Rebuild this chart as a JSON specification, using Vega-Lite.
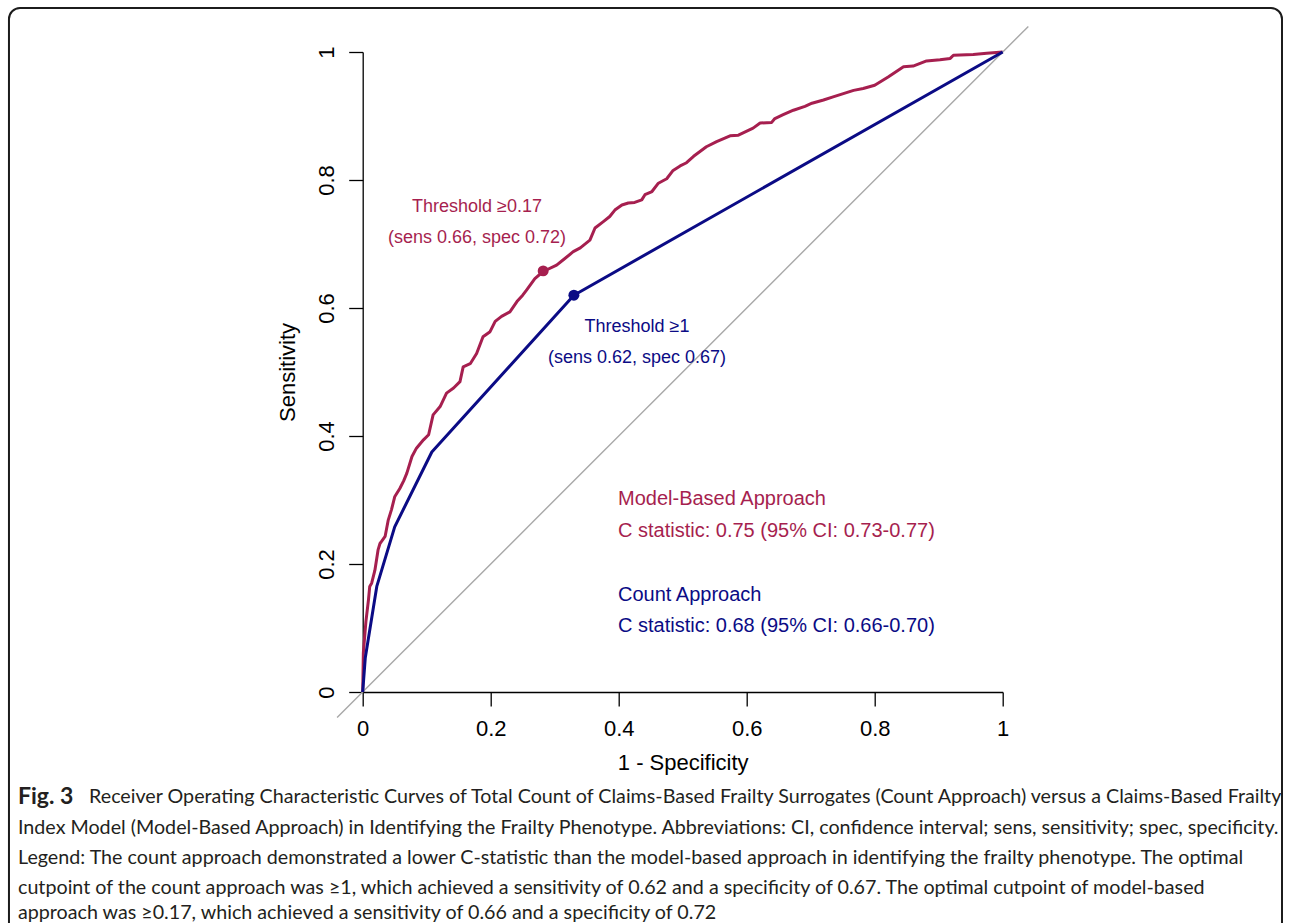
{
  "$schema": "https://vega.github.io/schema/vega-lite/v6.json",
  "width": 640,
  "height": 640,
  "autosize": {"type": "none"},
  "padding": {"left": 362.7, "top": 52, "right": 287.3, "bottom": 231},
  "background": "white",
  "config": {
    "view": {"stroke": null},
    "font": "Liberation Sans",
    "axis": {"grid": false, "domainColor": "#000000", "domainWidth": 1.3, "tickColor": "#000000", "tickWidth": 1.3, "tickSize": 14,
      "labelFont": "Liberation Sans", "labelFontSize": 22, "labelColor": "#000000", "labelFlush": false, "labelOverlap": false,
      "titleFont": "Liberation Sans", "titleFontSize": 22, "titleFontWeight": "normal", "titleColor": "#000000"},
    "axisX": {"labelPadding": 12, "titlePadding": 13},
    "axisY": {"labelPadding": 10, "labelAngle": 270, "labelAlign": "center", "labelBaseline": "bottom", "titlePadding": 16}
  },
  "datasets": {
    "reference": [
      {"fpr": -0.04, "tpr": -0.04},
      {"fpr": 1.04, "tpr": 1.04}
    ],
    "count": [
      {"fpr": 0, "tpr": 0},
      {"fpr": 0.004, "tpr": 0.053},
      {"fpr": 0.022, "tpr": 0.165},
      {"fpr": 0.05, "tpr": 0.258},
      {"fpr": 0.108, "tpr": 0.375},
      {"fpr": 0.33, "tpr": 0.62},
      {"fpr": 1, "tpr": 1}
    ],
    "model": [
      {"fpr": 0, "tpr": 0},
      {"fpr": 0.001, "tpr": 0.061},
      {"fpr": 0.005, "tpr": 0.11},
      {"fpr": 0.009, "tpr": 0.144},
      {"fpr": 0.011, "tpr": 0.165},
      {"fpr": 0.014, "tpr": 0.17},
      {"fpr": 0.019, "tpr": 0.19},
      {"fpr": 0.022, "tpr": 0.209},
      {"fpr": 0.024, "tpr": 0.222},
      {"fpr": 0.027, "tpr": 0.232},
      {"fpr": 0.03, "tpr": 0.236},
      {"fpr": 0.035, "tpr": 0.243},
      {"fpr": 0.04, "tpr": 0.269},
      {"fpr": 0.045, "tpr": 0.285},
      {"fpr": 0.05, "tpr": 0.305},
      {"fpr": 0.058, "tpr": 0.318},
      {"fpr": 0.064, "tpr": 0.33},
      {"fpr": 0.069, "tpr": 0.342},
      {"fpr": 0.077, "tpr": 0.368},
      {"fpr": 0.084, "tpr": 0.381},
      {"fpr": 0.095, "tpr": 0.394},
      {"fpr": 0.103, "tpr": 0.402},
      {"fpr": 0.11, "tpr": 0.433},
      {"fpr": 0.121, "tpr": 0.446},
      {"fpr": 0.131, "tpr": 0.467},
      {"fpr": 0.142, "tpr": 0.475},
      {"fpr": 0.152, "tpr": 0.485},
      {"fpr": 0.157, "tpr": 0.508},
      {"fpr": 0.168, "tpr": 0.513},
      {"fpr": 0.178, "tpr": 0.529},
      {"fpr": 0.188, "tpr": 0.555},
      {"fpr": 0.199, "tpr": 0.563},
      {"fpr": 0.207, "tpr": 0.579},
      {"fpr": 0.217, "tpr": 0.587},
      {"fpr": 0.23, "tpr": 0.594},
      {"fpr": 0.241, "tpr": 0.61},
      {"fpr": 0.25, "tpr": 0.62},
      {"fpr": 0.256, "tpr": 0.628},
      {"fpr": 0.269, "tpr": 0.646},
      {"fpr": 0.282, "tpr": 0.657},
      {"fpr": 0.303, "tpr": 0.667},
      {"fpr": 0.313, "tpr": 0.675},
      {"fpr": 0.329, "tpr": 0.688},
      {"fpr": 0.34, "tpr": 0.694},
      {"fpr": 0.355, "tpr": 0.706},
      {"fpr": 0.363, "tpr": 0.725},
      {"fpr": 0.376, "tpr": 0.735},
      {"fpr": 0.386, "tpr": 0.743},
      {"fpr": 0.394, "tpr": 0.753},
      {"fpr": 0.405, "tpr": 0.761},
      {"fpr": 0.415, "tpr": 0.764},
      {"fpr": 0.425, "tpr": 0.765},
      {"fpr": 0.436, "tpr": 0.769},
      {"fpr": 0.441, "tpr": 0.777},
      {"fpr": 0.452, "tpr": 0.782},
      {"fpr": 0.462, "tpr": 0.795},
      {"fpr": 0.475, "tpr": 0.802},
      {"fpr": 0.485, "tpr": 0.815},
      {"fpr": 0.496, "tpr": 0.822},
      {"fpr": 0.506, "tpr": 0.827},
      {"fpr": 0.517, "tpr": 0.837},
      {"fpr": 0.537, "tpr": 0.852},
      {"fpr": 0.553, "tpr": 0.86},
      {"fpr": 0.574, "tpr": 0.869},
      {"fpr": 0.587, "tpr": 0.87},
      {"fpr": 0.61, "tpr": 0.881},
      {"fpr": 0.621, "tpr": 0.889},
      {"fpr": 0.639, "tpr": 0.89},
      {"fpr": 0.644, "tpr": 0.896},
      {"fpr": 0.657, "tpr": 0.902},
      {"fpr": 0.673, "tpr": 0.909},
      {"fpr": 0.691, "tpr": 0.915},
      {"fpr": 0.702, "tpr": 0.92},
      {"fpr": 0.72, "tpr": 0.925},
      {"fpr": 0.735, "tpr": 0.93},
      {"fpr": 0.751, "tpr": 0.935},
      {"fpr": 0.767, "tpr": 0.94},
      {"fpr": 0.782, "tpr": 0.943},
      {"fpr": 0.8, "tpr": 0.948},
      {"fpr": 0.821, "tpr": 0.961},
      {"fpr": 0.845, "tpr": 0.977},
      {"fpr": 0.86, "tpr": 0.978},
      {"fpr": 0.881, "tpr": 0.986},
      {"fpr": 0.902, "tpr": 0.988},
      {"fpr": 0.918, "tpr": 0.99},
      {"fpr": 0.923, "tpr": 0.995},
      {"fpr": 0.954, "tpr": 0.996},
      {"fpr": 0.975, "tpr": 0.998},
      {"fpr": 1, "tpr": 1}
    ],
    "cutpoints": [
      {"approach": "Model-Based", "fpr": 0.282, "tpr": 0.658},
      {"approach": "Count", "fpr": 0.33, "tpr": 0.62}
    ],
    "thresholds": [
      {"approach": "Model-Based", "fpr": 0.1786, "tpr": 0.7578, "label": "Threshold ≥0.17"},
      {"approach": "Model-Based", "fpr": 0.1786, "tpr": 0.7094, "label": "(sens 0.66, spec 0.72)"},
      {"approach": "Count", "fpr": 0.4286, "tpr": 0.5703, "label": "Threshold ≥1"},
      {"approach": "Count", "fpr": 0.4286, "tpr": 0.5219, "label": "(sens 0.62, spec 0.67)"}
    ],
    "stats": [
      {"approach": "Model-Based", "fpr": 0.3989, "tpr": 0.3016, "label": "Model-Based Approach"},
      {"approach": "Model-Based", "fpr": 0.3989, "tpr": 0.2516, "label": "C statistic: 0.75 (95% CI: 0.73-0.77)"},
      {"approach": "Count", "fpr": 0.3989, "tpr": 0.1516, "label": "Count Approach"},
      {"approach": "Count", "fpr": 0.3989, "tpr": 0.1031, "label": "C statistic: 0.68 (95% CI: 0.66-0.70)"}
    ]
  },
  "layer": [
    {
      "data": {"name": "model"},
      "mark": {"type": "line", "clip": false, "color": "#a61f4f", "strokeWidth": 3, "strokeJoin": "round"},
      "encoding": {
        "x": {"field": "fpr", "type": "quantitative", "scale": {"domain": [0, 1], "nice": false},
          "axis": {"title": "1 - Specificity", "values": [0, 0.2, 0.4, 0.6, 0.8, 1], "format": "~g"}},
        "y": {"field": "tpr", "type": "quantitative", "scale": {"domain": [0, 1], "nice": false},
          "axis": {"title": "Sensitivity", "values": [0, 0.2, 0.4, 0.6, 0.8, 1], "format": "~g"}}
      }
    },
    {
      "data": {"values": [{}]},
      "mark": {"type": "rect", "clip": false, "fillOpacity": 0, "stroke": "#1c1c1c", "strokeWidth": 2, "cornerRadius": 11},
      "encoding": {
        "x": {"datum": -0.5527, "type": "quantitative", "scale": {"domain": [0, 1], "nice": false}},
        "x2": {"datum": 1.4364},
        "y": {"datum": 1.06875, "type": "quantitative", "scale": {"domain": [0, 1], "nice": false}},
        "y2": {"datum": -0.45}
      }
    },
    {
      "data": {"name": "reference"},
      "mark": {"type": "line", "clip": false, "color": "#a8a8a8", "strokeWidth": 1.4},
      "encoding": {
        "x": {"field": "fpr", "type": "quantitative", "scale": {"domain": [0, 1], "nice": false}},
        "y": {"field": "tpr", "type": "quantitative", "scale": {"domain": [0, 1], "nice": false}}
      }
    },
    {
      "data": {"name": "count"},
      "mark": {"type": "line", "clip": false, "color": "#0b0b85", "strokeWidth": 3, "strokeJoin": "round"},
      "encoding": {
        "x": {"field": "fpr", "type": "quantitative", "scale": {"domain": [0, 1], "nice": false}},
        "y": {"field": "tpr", "type": "quantitative", "scale": {"domain": [0, 1], "nice": false}}
      }
    },
    {
      "data": {"name": "cutpoints"},
      "mark": {"type": "point", "filled": true, "opacity": 1, "size": 120, "clip": false},
      "encoding": {
        "x": {"field": "fpr", "type": "quantitative", "scale": {"domain": [0, 1], "nice": false}},
        "y": {"field": "tpr", "type": "quantitative", "scale": {"domain": [0, 1], "nice": false}},
        "color": {"field": "approach", "type": "nominal", "scale": {"domain": ["Model-Based", "Count"], "range": ["#a61f4f", "#0b0b85"]}, "legend": null}
      }
    },
    {
      "data": {"name": "thresholds"},
      "mark": {"type": "text", "align": "center", "baseline": "middle", "fontSize": 18, "font": "Liberation Sans", "clip": false},
      "encoding": {
        "x": {"field": "fpr", "type": "quantitative", "scale": {"domain": [0, 1], "nice": false}},
        "y": {"field": "tpr", "type": "quantitative", "scale": {"domain": [0, 1], "nice": false}},
        "text": {"field": "label"},
        "color": {"field": "approach", "type": "nominal", "scale": {"domain": ["Model-Based", "Count"], "range": ["#a61f4f", "#0b0b85"]}, "legend": null}
      }
    },
    {
      "data": {"name": "stats"},
      "mark": {"type": "text", "align": "left", "baseline": "middle", "fontSize": 20, "font": "Liberation Sans", "clip": false},
      "encoding": {
        "x": {"field": "fpr", "type": "quantitative", "scale": {"domain": [0, 1], "nice": false}},
        "y": {"field": "tpr", "type": "quantitative", "scale": {"domain": [0, 1], "nice": false}},
        "text": {"field": "label"},
        "color": {"field": "approach", "type": "nominal", "scale": {"domain": ["Model-Based", "Count"], "range": ["#a61f4f", "#0b0b85"]}, "legend": null}
      }
    },
    {
      "data": {"values": [{}]},
      "mark": {"type": "text", "align": "left", "baseline": "middle", "fontSize": 23, "fontWeight": "bold", "font": "Lato", "color": "#231f20", "clip": false},
      "encoding": {
        "x": {"datum": -0.5386, "type": "quantitative", "scale": {"domain": [0, 1], "nice": false}},
        "y": {"datum": -0.1641, "type": "quantitative", "scale": {"domain": [0, 1], "nice": false}},
        "text": {"value": "Fig. 3"}
      }
    },
    {
      "data": {"values": [{}]},
      "mark": {"type": "text", "align": "left", "baseline": "middle", "fontSize": 19.7, "font": "Lato", "color": "#231f20", "clip": false},
      "encoding": {
        "x": {"datum": -0.4276, "type": "quantitative", "scale": {"domain": [0, 1], "nice": false}},
        "y": {"datum": -0.1641, "type": "quantitative", "scale": {"domain": [0, 1], "nice": false}},
        "text": {"value": "Receiver Operating Characteristic Curves of Total Count of Claims-Based Frailty Surrogates (Count Approach) versus a Claims-Based Frailty"}
      }
    },
    {
      "data": {"values": [{}]},
      "mark": {"type": "text", "align": "left", "baseline": "middle", "fontSize": 19.7, "font": "Lato", "color": "#231f20", "clip": false},
      "encoding": {
        "x": {"datum": -0.5386, "type": "quantitative", "scale": {"domain": [0, 1], "nice": false}},
        "y": {"datum": -0.2125, "type": "quantitative", "scale": {"domain": [0, 1], "nice": false}},
        "text": {"value": "Index Model (Model-Based Approach) in Identifying the Frailty Phenotype. Abbreviations: CI, confidence interval; sens, sensitivity; spec, specificity."}
      }
    },
    {
      "data": {"values": [{}]},
      "mark": {"type": "text", "align": "left", "baseline": "middle", "fontSize": 19.7, "font": "Lato", "color": "#231f20", "clip": false},
      "encoding": {
        "x": {"datum": -0.5386, "type": "quantitative", "scale": {"domain": [0, 1], "nice": false}},
        "y": {"datum": -0.2594, "type": "quantitative", "scale": {"domain": [0, 1], "nice": false}},
        "text": {"value": "Legend: The count approach demonstrated a lower C-statistic than the model-based approach in identifying the frailty phenotype. The optimal"}
      }
    },
    {
      "data": {"values": [{}]},
      "mark": {"type": "text", "align": "left", "baseline": "middle", "fontSize": 19.7, "font": "Lato", "color": "#231f20", "clip": false},
      "encoding": {
        "x": {"datum": -0.5386, "type": "quantitative", "scale": {"domain": [0, 1], "nice": false}},
        "y": {"datum": -0.3063, "type": "quantitative", "scale": {"domain": [0, 1], "nice": false}},
        "text": {"value": "cutpoint of the count approach was ≥1, which achieved a sensitivity of 0.62 and a specificity of 0.67. The optimal cutpoint of model-based"}
      }
    },
    {
      "data": {"values": [{}]},
      "mark": {"type": "text", "align": "left", "baseline": "middle", "fontSize": 19.7, "font": "Lato", "color": "#231f20", "clip": false},
      "encoding": {
        "x": {"datum": -0.5386, "type": "quantitative", "scale": {"domain": [0, 1], "nice": false}},
        "y": {"datum": -0.3453, "type": "quantitative", "scale": {"domain": [0, 1], "nice": false}},
        "text": {"value": "approach was ≥0.17, which achieved a sensitivity of 0.66 and a specificity of 0.72"}
      }
    }
  ]
}
